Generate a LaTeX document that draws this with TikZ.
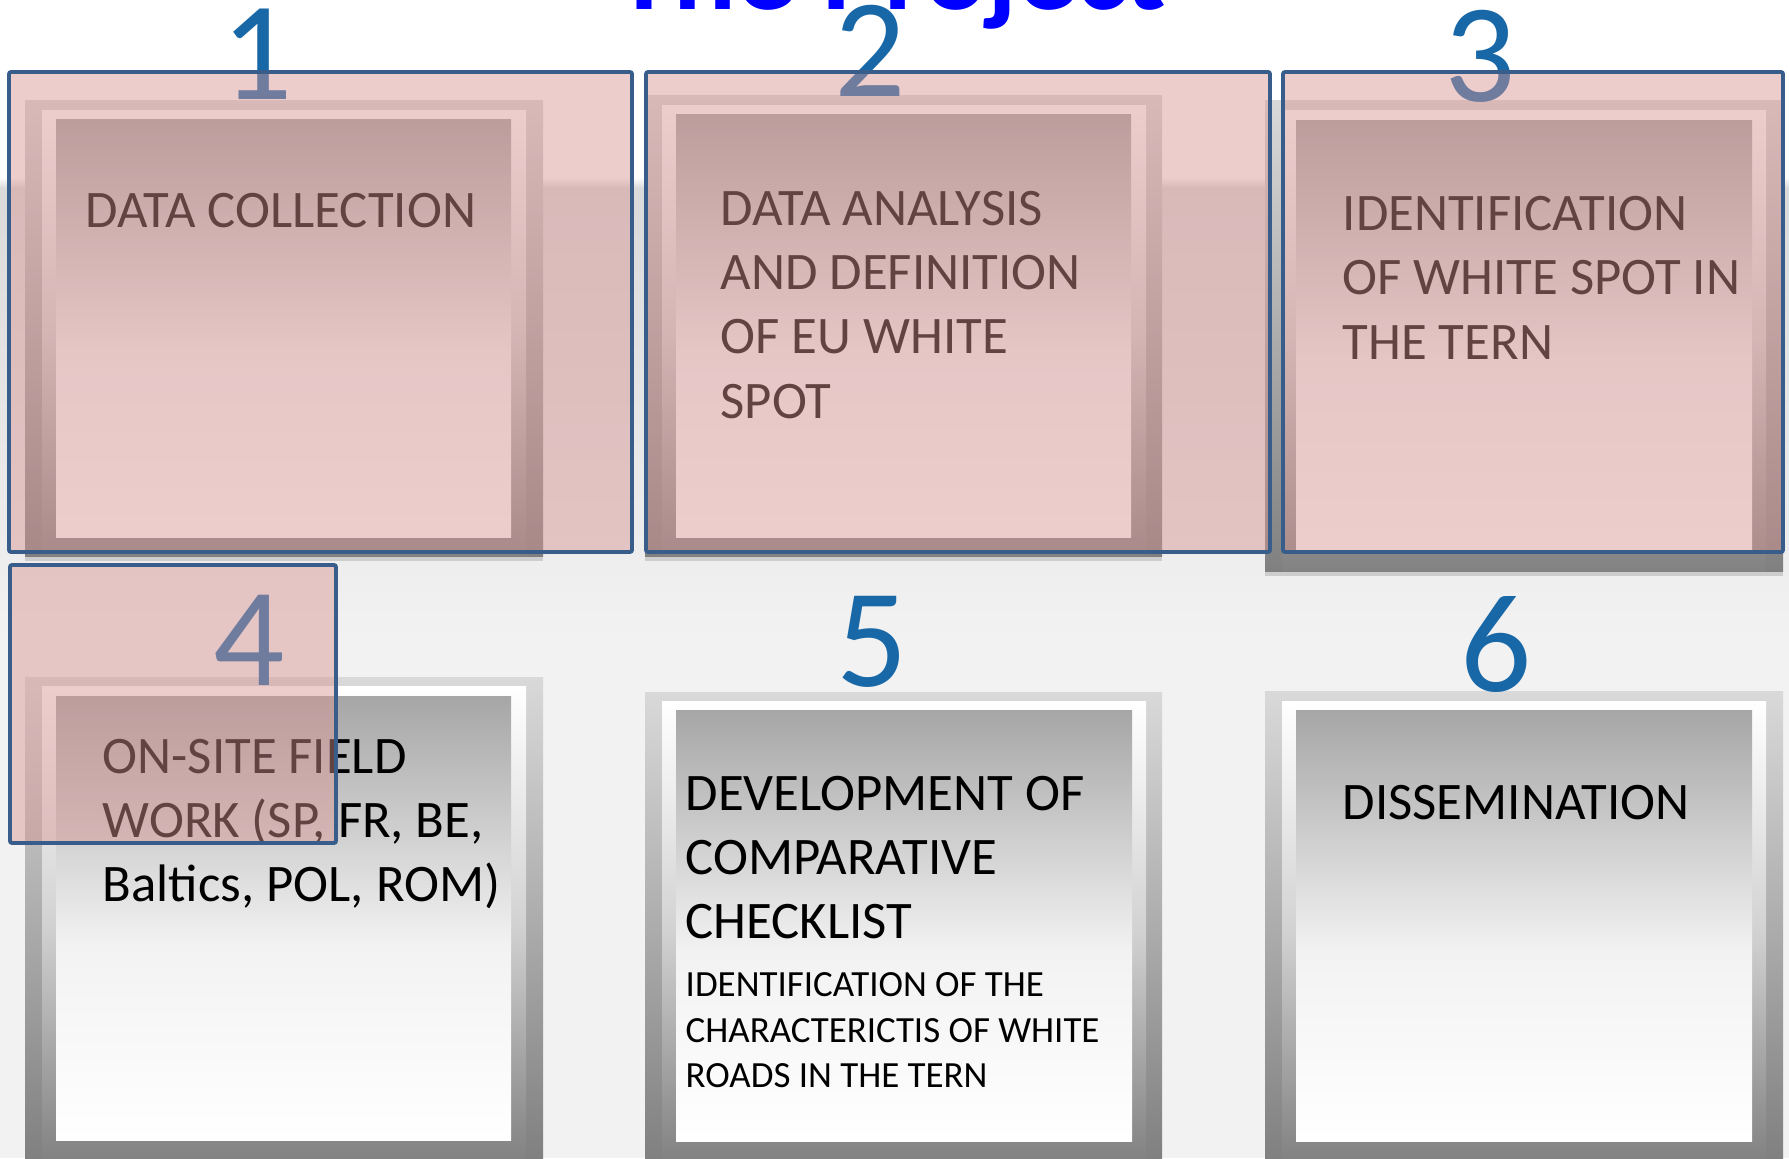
\documentclass[tikz,border=0pt]{standalone}
\usepackage{fontspec}
\setmainfont{Carlito}
\usetikzlibrary{positioning}

\definecolor{frameblue}{RGB}{56,93,138}
\definecolor{veilpink}{RGB}{216,148,146}
\definecolor{numblue}{RGB}{24,104,168}
\definecolor{titleblue}{RGB}{0,0,255}
\definecolor{slidegray}{RGB}{242,242,242}
\definecolor{edgegray}{RGB}{218,218,218}
\definecolor{shadowgray}{RGB}{205,205,205}
\definecolor{frameTop}{RGB}{217,217,217}
\definecolor{frameBot}{RGB}{128,128,128}
\definecolor{bandMid}{RGB}{210,210,210}
\definecolor{bandBot}{RGB}{130,130,130}
\definecolor{paneTop}{RGB}{166,166,166}
\definecolor{paneMid}{RGB}{242,242,242}
\pgfdeclareverticalshading{panegrad}{100bp}{color(0bp)=(white); color(25bp)=(white); color(47bp)=(paneMid); color(75bp)=(paneTop); color(100bp)=(paneTop)}

\begin{document}
\begin{tikzpicture}[
    x=0.01cm, y=-0.01cm,
    outerframe/.style={top color=frameTop, bottom color=frameBot},
    whiteband/.style={top color=white, bottom color=bandBot, middle color=bandMid},
    pane/.style={shading=panegrad},
    shadowline/.style={fill=shadowgray},
    pinkveil/.style={draw=frameblue, line width=1.1pt, fill=veilpink,
                     fill opacity=0.46, rounded corners=0.6pt},
    steptext/.style={anchor=base west, inner sep=0, align=left,
                     font=\fontsize{15}{18.2}\selectfont},
    smalltext/.style={anchor=base west, inner sep=0, align=left,
                      font=\fontsize{10.5}{12.8}\selectfont},
    stepnum/.style={anchor=base, inner sep=0, text=numblue,
                    font=\fontsize{40}{48}\selectfont}
]
\useasboundingbox (0,0) rectangle (1789,1158);
\clip (0,0) rectangle (1789,1158);

% --- Slide background ---
\fill[white] (0,0) rectangle (1789,177);
\shade[top color=white, bottom color=edgegray] (0,177) rectangle (1789,188);
\shade[top color=edgegray, bottom color=slidegray] (0,188) rectangle (1789,640);
\fill[slidegray] (0,640) rectangle (1789,1158);

% --- Frames, top row ---
\fill[shadowline] (25,556) rectangle (543,561);
\fill[outerframe] (25,101) rectangle (543,556);
\fill[whiteband] (42,111) rectangle (526,556);
\fill[pane] (56,120) rectangle (511,537);

\fill[shadowline] (645,556) rectangle (1162,561);
\fill[outerframe] (645,96) rectangle (1162,556);
\fill[whiteband] (662,106) rectangle (1146,556);
\fill[pane] (676,115) rectangle (1131,537);

\fill[shadowline] (1265,571) rectangle (1783,576);
\fill[outerframe] (1265,101) rectangle (1783,571);
\fill[whiteband] (1282,111) rectangle (1766,571);
\fill[pane] (1296,121) rectangle (1752,550);

% --- Frames, bottom row ---
\fill[outerframe] (25,677) rectangle (543,1160);
\fill[whiteband] (42,686) rectangle (526,1160);
\fill[pane] (56,696) rectangle (511,1140);

\fill[outerframe] (645,692) rectangle (1162,1160);
\fill[whiteband] (662,701) rectangle (1146,1160);
\fill[pane] (676,710) rectangle (1132,1141);

\fill[outerframe] (1265,691) rectangle (1783,1160);
\fill[whiteband] (1282,701) rectangle (1766,1160);
\fill[pane] (1296,710) rectangle (1752,1141);

% --- Step texts (base = last line) ---
\node[steptext] (collect) at (85,228) {DATA COLLECTION};
\node[steptext] (analysis) at (720,418) {DATA ANALYSIS\\AND DEFINITION\\OF EU WHITE\\SPOT};
\node[steptext] (ident) at (1342,359) {IDENTIFICATION\\OF WHITE SPOT IN\\THE TERN};
\node[steptext] (fieldwork) at (102,901) {ON-SITE FIELD\\WORK (SP, FR, BE,\\Baltics, POL, ROM)};
\node[steptext] (checklist) at (685,938) {DEVELOPMENT OF\\COMPARATIVE\\CHECKLIST};
\node[smalltext] (checknote) at (685,1087) {IDENTIFICATION OF THE\\CHARACTERICTIS OF WHITE\\ROADS IN THE TERN};
\node[steptext] (dissem) at (1342,819) {DISSEMINATION};

% --- Step numbers and title ---
\node[stepnum] (num1) at (257,100) {1};
\node[stepnum] (num2) at (870,97) {2};
\node[stepnum] (num3) at (1480,102) {3};
\node[stepnum] (num4) at (249,685) {4};
\node[stepnum] (num5) at (872,686) {5};
\node[stepnum] (num6) at (1496,691) {6};
\node[anchor=base, inner sep=0, text=titleblue,
      font=\fontsize{33.3}{40}\selectfont\bfseries] (title) at (891,10) {The Project};

% --- Pink veils on top ---
\draw[pinkveil] (9,72) rectangle (632,552);
\draw[pinkveil] (646,72) rectangle (1270,552);
\draw[pinkveil] (1283,72) rectangle (1783,552);
\draw[pinkveil] (10,565) rectangle (336,843);

\end{tikzpicture}
\end{document}
